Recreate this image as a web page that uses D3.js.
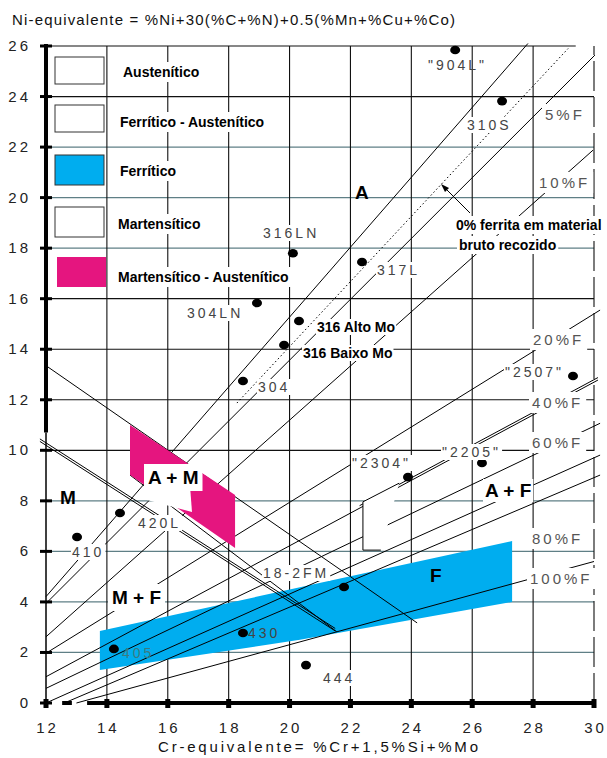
<!DOCTYPE html>
<html><head><meta charset="utf-8">
<script src="https://cdn.jsdelivr.net/npm/d3@7"></script>
<style>body{margin:0;background:#fff}svg{display:block}text{font-family:Arial,"Liberation Sans",sans-serif}</style>
</head><body><svg id="c" width="607" height="758"></svg>
<script>
// ---- data ----
const crTicks = [12,14,16,18,20,22,24,26,28,30];
const niTicks = [0,2,4,6,8,10,12,14,16,18,20,22,24,26];
// diagram lines [x1,y1,x2,y2] in (Cr-eq, Ni-eq)
const ferriteLineNames = ["A","5%","10%","20%","40%","60%","80a","80b","100%"];
const ferriteLines = [
  [12,4.21,27.83,26.1],
  [12,3.94,30.03,25.64],
  [12,2.62,29.97,21.88],
  [12,1.97,30.2,15.55],
  [12,1.04,30.13,12.78],
  [12,0.58,30.2,11.07],
  [12,0,30.2,9.81],
  [12.6,0,30.2,9.02],
  [13,0,30,5.6]
];
const dottedLine = [18.27,11.87,29.15,25.9];
const martLines = [
  [12,13.35,24.19,3.17],
  [11.8,10.45,21.5,2.95],
  [14.76,9.02,21.55,2.82]
];
const ferriticRegion = [[13.77,2.85],[27.31,6.41],[27.31,4.0],[20.34,2.5],[13.77,1.31]];
const martAustRegion = [[14.76,11.0],[18.21,8.23],[18.21,6.13],[14.76,9.02]];
const steelNames = ["\"904L\"","310S","316LN","304LN","","","304","317L","\"2507\"","\"2205\"","\"2304\"","410","420L","405","430","444","18-2FM"];
const steelCr = [25.44,26.98,20.11,18.93,20.31,19.82,18.47,22.38,29.31,26.32,23.89,13.02,14.43,14.23,18.47,20.54,21.79];
const steelNi = [25.84,23.82,17.8,15.83,15.12,14.17,12.74,17.45,12.94,9.5,8.94,6.57,7.52,2.14,2.77,1.5,4.59];
const legendLabels = ["Austenítico","Ferrítico - Austenítico","Ferrítico","Martensítico","Martensítico - Austenítico"];
const legendColors = ["#fff","#fff","#00adef","#fff","#e5157f"];

// ---- chart ----
const svg = d3.select("#c");
const x = d3.scaleLinear().domain([12,30]).range([46,594]);
const y = d3.scaleLinear().domain([0,26]).range([703,46]);
const gridGray = new Set([2,4,6,8,18,20,22]);

// grid
svg.append("g").selectAll("line").data(niTicks.filter(d=>d>0)).join("line")
  .attr("x1",x(12)).attr("x2",d=>d===26?x(29.4):x(30)).attr("y1",d=>y(d)).attr("y2",d=>y(d))
  .attr("stroke",d=>gridGray.has(d)?"#5f7f86":"#111").attr("stroke-width",1.2);
svg.append("g").selectAll("line").data(crTicks.filter(d=>d>12)).join("line")
  .attr("x1",d=>x(d)).attr("x2",d=>x(d)).attr("y1",y(0)).attr("y2",y(26))
  .attr("stroke","#111").attr("stroke-width",1.1)
  .attr("stroke-dasharray",d=>d===30?"30,6":null);

// ferritic region (under lines)
svg.append("path").datum(ferriticRegion)
  .attr("d",d=>"M"+d.map(p=>x(p[0])+","+y(p[1])).join("L")+"Z")
  .attr("fill","#00adef");

const lg = svg.append("g").attr("stroke","#000").attr("stroke-width",1);
lg.selectAll("line.f").data(ferriteLines).join("line").attr("class","f")
  .attr("x1",d=>x(d[0])).attr("y1",d=>y(d[1])).attr("x2",d=>x(d[2])).attr("y2",d=>y(d[3]));
// double 40% line
lg.append("line").datum(ferriteLines[4])
  .attr("x1",d=>x(22.3)).attr("y1",d=>y(d[1]+(d[3]-d[1])*(22.3-d[0])/(d[2]-d[0]))-2.5)
  .attr("x2",d=>x(d[2])).attr("y2",d=>y(d[3])-2.5);
lg.selectAll("line.m").data(martLines).join("line").attr("class","m")
  .attr("x1",d=>x(d[0])).attr("y1",d=>y(d[1])).attr("x2",d=>x(d[2])).attr("y2",d=>y(d[3]));
lg.append("line").datum(martLines[1])
  .attr("x1",d=>x(d[0])).attr("y1",d=>y(d[1])+2.5).attr("x2",d=>x(d[2])).attr("y2",d=>y(d[3])+2.5);
lg.append("line").datum(dottedLine)
  .attr("x1",d=>x(d[0])).attr("y1",d=>y(d[1])).attr("x2",d=>x(d[2])).attr("y2",d=>y(d[3]))
  .attr("stroke-dasharray","1.5,2.5");

// martensitic-austenitic region
svg.append("path").datum(martAustRegion)
  .attr("d",d=>"M"+d.map(p=>x(p[0])+","+y(p[1])).join("L")+"Z")
  .attr("fill","#e5157f");
// white notch below the A+M label
svg.append("path").attr("d","M147,486 L190,486 L192,512 L147,500 Z").attr("fill","#fff");

// A+F outline box
svg.append("path")
  .attr("d",`M${x(23.6)},${y(8.7)}L${x(22.41)},${y(7.96)}L${x(22.41)},${y(6.05)}L${x(23.0)},${y(6.05)}`)
  .attr("fill","#fff").attr("stroke","#000").attr("stroke-width",1);

// label helper with white background
function label(t, px, py, opt={}){
  const g = svg.append("g");
  const tx = g.append("text").attr("x",px).attr("y",py).text(t)
    .attr("font-size",opt.size||14).attr("font-weight",opt.bold?"bold":"normal")
    .attr("fill",opt.color||"#000").attr("text-anchor",opt.anchor||"start");
  if(opt.ls) tx.attr("letter-spacing",opt.ls);
  if(opt.bg!==false){
    const b = tx.node().getBBox();
    const p = opt.pad||2;
    g.insert("rect","text").attr("x",b.x-p).attr("y",b.y-p+1).attr("width",b.width+2*p).attr("height",b.height+2*p-2).attr("fill","#fff");
  }
  return g;
}

// legend
const legY = [57,105,155,207,257];
svg.append("g").selectAll("rect").data(legendLabels).join("rect")
  .attr("x",(d,i)=>i===4?57:55).attr("y",(d,i)=>legY[i]).attr("width",49).attr("height",(d,i)=>i<2?27:30)
  .attr("fill",(d,i)=>legendColors[i]).attr("stroke",(d,i)=>i===4?"none":"#333").attr("stroke-width",1);
const legX = [123,120,120,118,118];
const legB = [77,127,176,229,282];
legendLabels.forEach((t,i)=>label(t,legX[i],legB[i],{bold:true,size:14,pad:3}));

// steel dots
const steelLabX = [428,467,263,187,317,303,258,377,505,442,352,72,138,122,248,323,263];
const steelLabY = [70,130,238,318,332,358,392,275,377,457,468,557,528,658,638,683,578];
steelCr.forEach((c,i)=>{
  svg.append("ellipse").attr("cx",x(c)).attr("cy",y(steelNi[i])).attr("rx",5).attr("ry",4.3).attr("fill","#000");
});
steelNames.forEach((t,i)=>{
  if(!t) return;
  label(t,steelLabX[i],steelLabY[i],{size:14,color:i===13?"#3b7a80":"#444",ls:3,bg:i!==13&&i!==14&&i!==0,pad:1});
});
label("316 Alto Mo",317,332,{bold:true,size:14,pad:1});
label("316 Baixo Mo",303,358,{bold:true,size:14,pad:1});

// region labels
label("A",355,199,{bold:true,size:19,bg:false});
label("M",60,504,{bold:true,size:19,bg:false});
label("A + M",148,484,{bold:true,size:19,pad:4});
label("M + F",112,604,{bold:true,size:19,pad:4});
label("A + F",485,497,{bold:true,size:19,pad:2});
label("F",430,582,{bold:true,size:19,bg:false});

// ferrite % labels
const pctLabels = ["5%F","10%F","20%F","40%F","60%F","80%F","100%F"];
const pctX = [545,539,533,532,532,532,530];
const pctY = [120,188,345,408,448,544,584];
pctLabels.forEach((t,i)=>label(t,pctX[i],pctY[i],{size:15,color:"#555",ls:3,pad:3}));

// annotation
label("0% ferrita em material",456,230,{bold:true,size:14,pad:2});
label("bruto recozido",459,250,{bold:true,size:14,pad:2});
svg.append("line").attr("x1",470).attr("y1",213).attr("x2",444).attr("y2",187).attr("stroke","#000");
svg.append("path").attr("d","M441,184 L449,188 L445,192 Z").attr("fill","#000");

// axes
svg.append("line").attr("x1",x(12)).attr("x2",x(12)).attr("y1",y(10.7)).attr("y2",y(26)-2).attr("stroke","#000").attr("stroke-width",4);
svg.append("line").attr("x1",x(12)).attr("x2",x(12)).attr("y1",y(0)).attr("y2",y(10.7)).attr("stroke","#000").attr("stroke-width",1.5);
svg.append("line").attr("x1",x(13.35)).attr("x2",x(30)).attr("y1",y(0)).attr("y2",y(0)).attr("stroke","#000").attr("stroke-width",4);
svg.append("line").attr("x1",x(12.53)).attr("x2",x(12.85)).attr("y1",y(0)).attr("y2",y(0)).attr("stroke","#000").attr("stroke-width",4);
svg.append("g").selectAll("line").data(niTicks).join("line")
  .attr("x1",x(12)-6).attr("x2",x(12)+6).attr("y1",d=>y(d)).attr("y2",d=>y(d)).attr("stroke","#000").attr("stroke-width",3);
svg.append("g").selectAll("rect").data(crTicks).join("rect")
  .attr("x",d=>x(d)-2.5).attr("y",y(0)-4).attr("width",5).attr("height",9).attr("fill","#000");
svg.append("g").selectAll("text").data(niTicks).join("text")
  .attr("x",31).attr("y",d=>y(d)+5).attr("text-anchor","end").attr("font-size",15).attr("letter-spacing",3).attr("fill","#222").text(d=>d);
svg.append("g").selectAll("text").data(crTicks).join("text")
  .attr("x",d=>x(d)+1.5).attr("y",733).attr("text-anchor","middle").attr("font-size",15).attr("letter-spacing",3).attr("fill","#222").text(d=>d);

// titles
svg.append("text").attr("x",12).attr("y",25).attr("font-size",15).attr("fill","#111")
  .attr("textLength",443).attr("lengthAdjust","spacing").text("Ni-equivalente = %Ni+30(%C+%N)+0.5(%Mn+%Cu+%Co)");
svg.append("text").attr("x",158).attr("y",752).attr("font-size",15).attr("fill","#111")
  .attr("textLength",320).attr("lengthAdjust","spacing").text("Cr-equivalente= %Cr+1,5%Si+%Mo");
</script></body></html>
